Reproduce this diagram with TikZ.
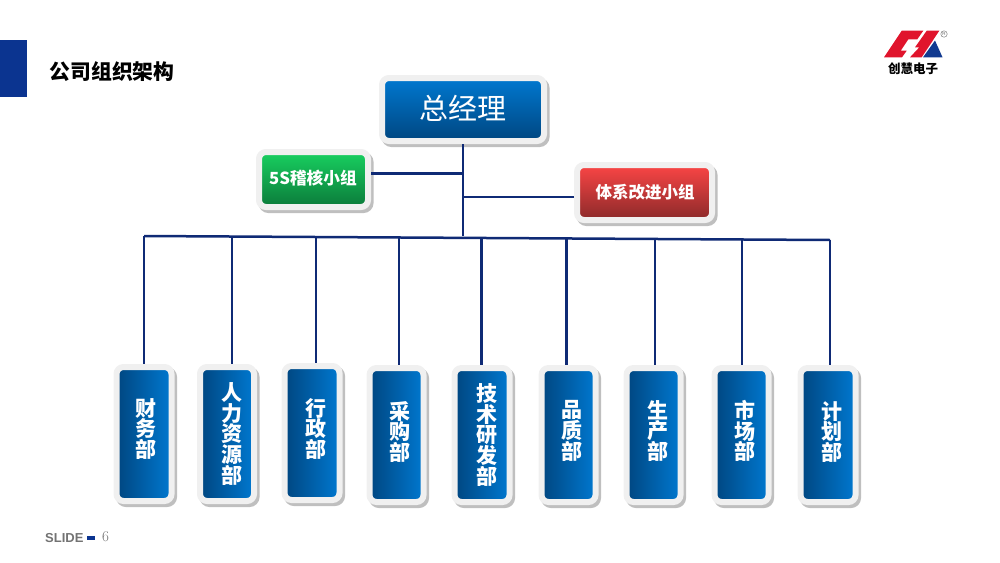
\documentclass[tikz,border=0pt]{standalone}
\usepackage{fontspec}
\newfontfamily\cjk{Noto Sans CJK SC}
\setsansfont{Liberation Sans}
\usepackage{tikz}
\usetikzlibrary{positioning,shadows}

\definecolor{navy}{HTML}{0F2A75}
\definecolor{tabblue}{HTML}{0B3490}
\definecolor{frame}{HTML}{F0F0F0}
\definecolor{bluehi}{HTML}{0078D0}
\definecolor{bluelo}{HTML}{004680}
\definecolor{greenhi}{HTML}{18D060}
\definecolor{greenlo}{HTML}{0B7A3A}
\definecolor{redhi}{HTML}{FA4545}
\definecolor{redlo}{HTML}{8B2A2A}
\definecolor{logored}{HTML}{E0142C}
\definecolor{logoblue}{HTML}{123A90}

\tikzset{
	box/.style={draw=frame, line width=6pt, rounded corners=7pt, inner sep=0pt,
		general shadow={shadow xshift=2.5pt, shadow yshift=-3pt, draw=black!25, fill=black!25, line width=6pt}},
	head/.style={box, top color=bluehi, bottom color=bluelo, minimum width=162pt, minimum height=63pt},
	greenbox/.style={box, top color=greenhi, bottom color=greenlo, minimum width=109pt, minimum height=55pt},
	redbox/.style={box, top color=redhi, bottom color=redlo, minimum width=135pt, minimum height=55pt},
	dept/.style={box, left color=bluelo, right color=bluehi, minimum width=55pt, minimum height=134pt},
	depttext/.style={text=white, align=center, font=\fontsize{21}{20.6}\selectfont\bfseries\cjk, inner sep=0pt},
	wire/.style={draw=navy, line width=2pt},
}

\begin{document}
\begin{tikzpicture}[x=1pt,y=-1pt,on grid]
		\useasboundingbox (0,0) rectangle (1000,562);
		
		% header
		\fill[tabblue] (0,40) rectangle (27,97);
		\node[font=\fontsize{20.8}{24}\selectfont\bfseries\cjk, anchor=west, inner sep=0pt] (title) at (49.5,72) {公司组织架构};
		
		% logo
		\fill[logored] (901.7,30.7) -- (923.3,30.7) -- (917.3,39.3) -- (908.3,39.3) -- (900.7,50.7) -- (906.7,50.7) -- (902,57.3) -- (884,57.3) -- cycle;
		\fill[logored] (926.7,30.7) -- (939.3,30.7) -- (921.7,57.3) -- (910,57.3) -- (919.3,47.3) -- (915,47.3) -- cycle;
		\fill[logoblue] (935,40.5) -- (942.5,57.3) -- (923,57.3) -- cycle;
		\node[font=\fontsize{12.5}{14}\selectfont\bfseries\cjk, inner sep=0pt] (brand) at (913,69) {创慧电子};
		\node[draw=black!60, circle, line width=.4pt, inner sep=.7pt, font=\fontsize{4.5}{5}\selectfont\sffamily, text=black!60] (reg) at (944,34) {R};
		
		% top boxes
		\node[head] (gm) at (463,109.5) {};
		\node[text=white, font=\fontsize{29}{32}\selectfont\cjk, inner sep=0pt] (gmtext) at (463,108.5) {总经理};
		\node[greenbox] (audit) at (313.5,179.5) {};
		\node[text=white, font=\fontsize{16.7}{18}\selectfont\bfseries\cjk, inner sep=0pt] (audittext) at (313,178) {5S稽核小组};
		\node[redbox] (improve) at (644.5,192.5) {};
		\node[text=white, font=\fontsize{16.5}{18}\selectfont\bfseries\cjk, inner sep=0pt] (improvetext) at (645,192) {体系改进小组};
		
		% departments
		\node[dept] (fin) at (144,434) {};
		\node[dept, right = 83pt of fin, minimum width=54pt] (hr) {};
		\node[dept, right = 85pt of hr, yshift=1pt] (adm) {};
		\node[dept, right = 84.5pt of adm, yshift=-2pt, minimum width=54pt] (buy) {};
		\node[dept, right = 85.5pt of buy] (tech) {};
		\node[dept, right = 86.5pt of tech, minimum width=54pt] (qa) {};
		\node[dept, right = 85pt of qa, minimum width=54pt] (prod) {};
		\node[dept, right = 88pt of prod, minimum width=54pt] (mkt) {};
		\node[dept, right = 86.5pt of mkt] (plan) {};
		
		\node[depttext, xshift=2pt, yshift=5pt] (fintext) at (fin) {财\\务\\部};
		\node[depttext, xshift=5pt] (hrtext) at (hr) {人\\力\\资\\源\\部};
		\node[depttext, xshift=4pt, yshift=4pt] (admtext) at (adm) {行\\政\\部};
		\node[depttext, xshift=3pt, yshift=3pt] (buytext) at (buy) {采\\购\\部};
		\node[depttext, xshift=5pt] (techtext) at (tech) {技\\术\\研\\发\\部};
		\node[depttext, xshift=3pt, yshift=4pt] (qatext) at (qa) {品\\质\\部};
		\node[depttext, xshift=4.5pt, yshift=4pt] (prodtext) at (prod) {生\\产\\部};
		\node[depttext, xshift=3.5pt, yshift=4pt] (mkttext) at (mkt) {市\\场\\部};
		\node[depttext, xshift=3.5pt, yshift=3pt] (plantext) at (plan) {计\\划\\部};
		
		% bus points
		\coordinate (busmid) at (463,236);
		\coordinate (tapaudit) at (463,173.5);
		\coordinate (tapimprove) at (463,197);
		\coordinate (busfin) at (144,236);
		\coordinate (bushr) at (232,236.5);
		\coordinate (busadm) at (316,237);
		\coordinate (busbuy) at (399,237.5);
		\coordinate (bustech) at (481,238);
		\coordinate (busqa) at (566,238.5);
		\coordinate (busprod) at (655,239);
		\coordinate (busmkt) at (742,239.5);
		\coordinate (busplan) at (830,240);
		
		% wires
		\path[wire] (gm.south) edge (busmid)
		(audit.east |- tapaudit) edge[line width=2.5pt] (tapaudit)
		(improve.west |- tapimprove) edge[line width=2.5pt] (tapimprove)
		(busfin) edge[line width=2.5pt] (busplan);
		\path[wire] (busfin) edge (busfin |- fin.north)
		(bushr) edge (bushr |- hr.north)
		(busadm) edge (busadm |- adm.north)
		(busbuy) edge (busbuy |- buy.north)
		(bustech) edge[line width=3pt] (bustech |- tech.north)
		(busqa) edge[line width=3pt] (busqa |- qa.north)
		(busprod) edge (busprod |- prod.north)
		(busmkt) edge (busmkt |- mkt.north)
		(busplan) edge (busplan |- plan.north);
		
		% footer
		\node[font=\fontsize{13}{14}\selectfont\bfseries\sffamily, text=black!55, anchor=west, inner sep=0pt] (slide) at (45,538) {SLIDE};
		\fill[tabblue] (86.5,535.5) rectangle (94.5,539.5);
		\node[font=\fontsize{15}{16}\selectfont, text=black!55, inner sep=0pt] (page) at (105.5,537) {6};
\end{tikzpicture}
\end{document}
